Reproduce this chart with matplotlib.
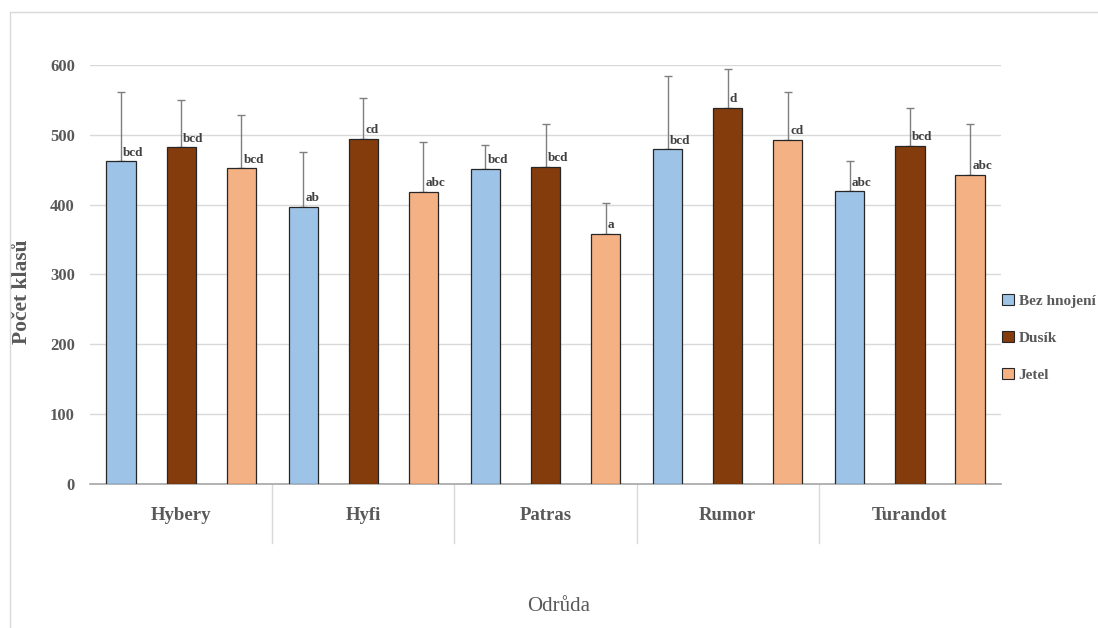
import matplotlib
matplotlib.use("Agg")
import matplotlib.pyplot as plt
import numpy as np
from matplotlib.patches import Rectangle
from matplotlib.lines import Line2D

varieties = ["Hybery", "Hyfi", "Patras", "Rumor", "Turandot"]
treatments = ["Bez hnojení", "Dusík", "Jetel"]
colors = ["#9DC3E6", "#843C0C", "#F4B183"]

means = {
    "Bez hnojení": [462, 397, 451, 479, 419],
    "Dusík":       [482, 494, 454, 539, 484],
    "Jetel":       [452, 418, 358, 493, 443],
}
upper_err = {
    "Bez hnojení": [99, 79, 34, 105, 44],
    "Dusík":       [68, 59, 61, 55, 55],
    "Jetel":       [77, 72, 45, 69, 72],
}
letters = {
    "Bez hnojení": ["bcd", "ab", "bcd", "bcd", "abc"],
    "Dusík":       ["bcd", "cd", "bcd", "d", "bcd"],
    "Jetel":       ["bcd", "abc", "a", "cd", "abc"],
}

serif = ["Liberation Serif", "DejaVu Serif"]
txt_col = "#595959"

fig = plt.figure(figsize=(10.98, 6.28), dpi=100)
fig.patches.append(Rectangle((0.009, -0.01), 1.0, 0.991, transform=fig.transFigure,
                             fill=False, edgecolor="#D9D9D9", linewidth=1.0))
ax = fig.add_axes([0.082, 0.2293, 0.8297, 0.6672])

x = np.arange(len(varieties))
offsets = [-0.33, 0.0, 0.33]
width = 0.16

for t, off, c in zip(treatments, offsets, colors):
    xs = x + off
    ax.bar(xs, means[t], width=width, color=c, edgecolor="#262626",
           linewidth=0.9, zorder=3)
    ax.errorbar(xs, means[t], yerr=[np.zeros(len(xs)), upper_err[t]], fmt="none",
                ecolor="#7F7F7F", elinewidth=1.0, capsize=3, capthick=1.0, zorder=2)
    for xi, m, lab in zip(xs, means[t], letters[t]):
        ax.text(xi + 0.012, m + 4, lab, ha="left", va="bottom", family=serif,
                fontweight="bold", fontsize=9.5, color="#404040", zorder=4)

ax.set_xlim(-0.5, len(varieties) - 0.5)
ax.set_ylim(0, 600)
ax.set_yticks(np.arange(0, 601, 100))
ax.yaxis.grid(True, color="#D9D9D9", linewidth=1.0, zorder=0)
ax.set_axisbelow(True)
for s in ["top", "right", "left"]:
    ax.spines[s].set_visible(False)
ax.spines["bottom"].set_color("#A6A6A6")
ax.spines["bottom"].set_linewidth(1.2)
ax.tick_params(axis="y", length=0, pad=11, labelsize=12, labelcolor=txt_col)
for lbl in ax.get_yticklabels():
    lbl.set_family(serif)
    lbl.set_fontweight("bold")

ax.set_xticks([])
for i, v in enumerate(varieties):
    ax.text(i, -0.076, v, transform=ax.get_xaxis_transform(), ha="center", va="center",
            family=serif, fontweight="bold", fontsize=13.5, color=txt_col)
for b in np.arange(0.5, len(varieties) - 0.5, 1.0):
    ax.add_line(Line2D([b, b], [0, -0.14], transform=ax.get_xaxis_transform(),
                       color="#D9D9D9", linewidth=1.0, clip_on=False))

ax.set_ylabel("Počet klasů", family=serif, fontweight="bold", fontsize=15.5,
              color=txt_col)
ax.yaxis.set_label_coords(-0.064, 0.46)
fig.text(0.509, 0.034, "Odrůda", ha="center", va="center", family=serif,
         fontsize=15, color=txt_col)

handles = [Rectangle((0, 0), 1, 1, facecolor=c, edgecolor="#262626", linewidth=0.8)
           for c in colors]
leg = fig.legend(handles, treatments, loc="center left", bbox_to_anchor=(0.913, 0.462),
                 frameon=False, handlelength=0.75, handleheight=0.75, handletextpad=0.3,
                 labelspacing=1.5, borderpad=0.0, borderaxespad=0.0,
                 prop={"family": serif, "weight": "bold", "size": 11})
for t in leg.get_texts():
    t.set_color(txt_col)

fig.savefig("out.png", dpi=100)
